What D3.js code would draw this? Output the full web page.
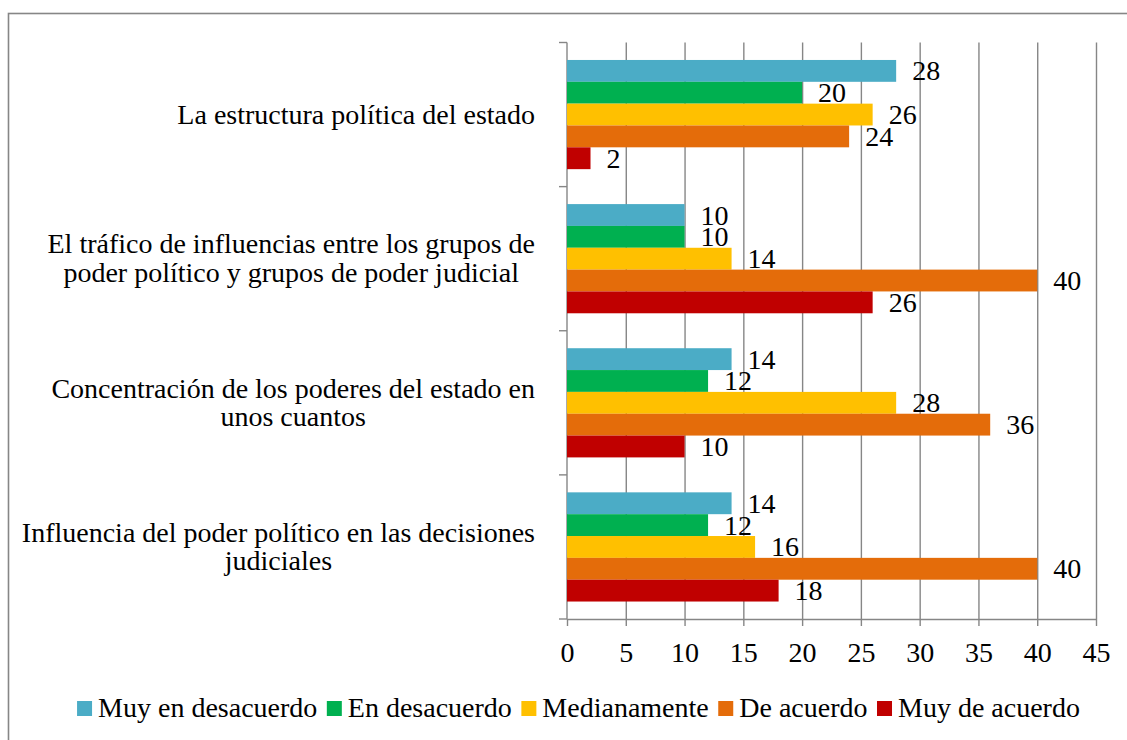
<!DOCTYPE html>
<html>
<head>
<meta charset="utf-8">
<title>Grouped bars</title>
<script src="https://d3js.org/d3.v7.min.js"></script>
<style>
  body { margin: 0; background: #fff; }
  text { font-family: "Liberation Serif", serif; font-size: 28px; fill: #000; }
  .grid line, .axis line, .axis path { stroke: #868686; stroke-width: 1.4px; }
</style>
</head>
<body>
<script>
// categories (line breaks as in the original chart)
const categories = [
  "La estructura política del estado",
  "El tráfico de influencias entre los grupos de\npoder político y grupos de poder judicial",
  "Concentración de los poderes del estado en\nunos cuantos",
  "Influencia del poder político en las decisiones\njudiciales"
];
const seriesNames = ["Muy en desacuerdo", "En desacuerdo", "Medianamente", "De acuerdo", "Muy de acuerdo"];
const seriesColors = ["#4BACC6", "#00B050", "#FFC000", "#E46C0A", "#C00000"];

const muyEnDesacuerdo = [28, 10, 14, 14];
const enDesacuerdo    = [20, 10, 12, 12];
const medianamente    = [26, 14, 28, 16];
const deAcuerdo       = [24, 40, 36, 40];
const muyDeAcuerdo    = [2, 26, 10, 18];
const seriesValues = [muyEnDesacuerdo, enDesacuerdo, medianamente, deAcuerdo, muyDeAcuerdo];

const xTicks = [0, 5, 10, 15, 20, 25, 30, 35, 40, 45];

const W = 1127, H = 740;
const plot = { left: 567, right: 1096, top: 42.5, bottom: 619 };

const svg = d3.select("body").append("svg")
    .attr("width", W)
    .attr("height", H);

// outer frame (runs off the right and bottom edges)
svg.append("rect")
    .attr("x", 8.5).attr("y", 13.5)
    .attr("width", 1140).attr("height", 760)
    .attr("fill", "none")
    .attr("stroke", "#868686")
    .attr("stroke-width", 1.6);

const x = d3.scaleLinear().domain([0, 45]).range([plot.left, plot.right]);
const y = d3.scaleBand().domain(categories).range([plot.top, plot.bottom]);
const ySub = d3.scaleBand().domain(seriesNames).range([0, y.bandwidth()]).paddingOuter(0.8);

// vertical gridlines
svg.append("g")
    .attr("class", "grid")
    .attr("transform", "translate(0," + plot.top + ")")
    .call(d3.axisBottom(x).tickValues(xTicks.slice(1)).tickSize(plot.bottom - plot.top).tickFormat(""))
    .call(g => g.select(".domain").remove());

// x axis
svg.append("g")
    .attr("class", "axis")
    .attr("transform", "translate(0," + plot.bottom + ")")
    .call(d3.axisBottom(x).tickValues(xTicks).tickSize(7).tickPadding(16).tickSizeOuter(0))
    .call(g => g.selectAll("text").style("font-size", "28px").style("font-family", "Liberation Serif, serif").attr("fill", "#000"));

// y axis with ticks on band boundaries
const yAxis = svg.append("g").attr("class", "axis");
yAxis.append("line")
    .attr("x1", plot.left).attr("x2", plot.left)
    .attr("y1", plot.top).attr("y2", plot.bottom);
yAxis.selectAll("line.tick")
    .data(categories.map(c => y(c)).concat([plot.bottom]))
    .enter().append("line")
    .attr("class", "tick")
    .attr("x1", plot.left - 8).attr("x2", plot.left)
    .attr("y1", d => d).attr("y2", d => d);

// bars
const groups = svg.selectAll(".cat")
    .data(categories)
    .enter().append("g")
    .attr("class", "cat")
    .attr("transform", c => "translate(0," + y(c) + ")");

groups.selectAll("rect")
    .data((c, i) => seriesNames.map((s, j) => ({ s: s, v: seriesValues[j][i], color: seriesColors[j] })))
    .enter().append("rect")
    .attr("x", x(0))
    .attr("y", d => ySub(d.s))
    .attr("width", d => x(d.v) - x(0))
    .attr("height", ySub.bandwidth())
    .attr("fill", d => d.color);

groups.selectAll("text.val")
    .data((c, i) => seriesNames.map((s, j) => ({ s: s, v: seriesValues[j][i] })))
    .enter().append("text")
    .attr("class", "val")
    .attr("x", d => x(d.v) + 16)
    .attr("y", d => ySub(d.s) + ySub.bandwidth() / 2 + 9.5)
    .text(d => d.v);

// category labels: right-aligned block, centred lines
const labelRight = 535;
const lineH = 28.5;
categories.forEach(c => {
  const lines = c.split("\n");
  const cy = y(c) + y.bandwidth() / 2;
  const g = svg.append("g");
  const t = g.selectAll("text").data(lines).enter().append("text")
      .attr("text-anchor", "middle")
      .attr("y", (d, i) => cy + 9 + (i - (lines.length - 1) / 2) * lineH)
      .text(d => d);
  let maxW = 0;
  t.each(function () { maxW = Math.max(maxW, this.getComputedTextLength()); });
  t.attr("x", labelRight - maxW / 2);
});

// legend
const legend = svg.append("g");
const gap = 9.5;
let lx = 0;
seriesNames.forEach((s, j) => {
  const it = legend.append("g").attr("transform", "translate(" + lx + ",0)");
  it.append("rect").attr("x", 0).attr("y", 701).attr("width", 15).attr("height", 15).attr("fill", seriesColors[j]);
  const tx = it.append("text").attr("x", 21).attr("y", 717).text(s);
  lx += 21 + tx.node().getComputedTextLength() + gap;
});
const legendW = lx - gap;
legend.attr("transform", "translate(" + (578.5 - legendW / 2) + ",0)");
</script>
</body>
</html>
